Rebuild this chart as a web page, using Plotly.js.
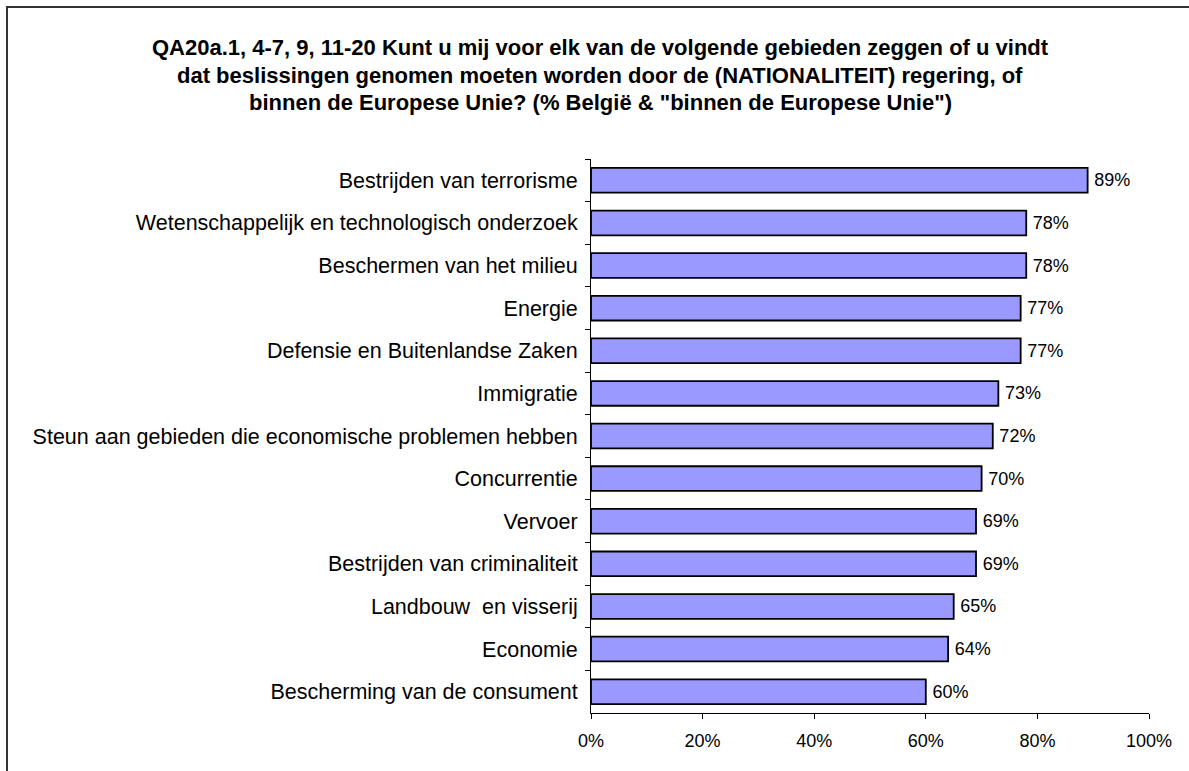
<!DOCTYPE html>
<html>
<head>
<meta charset="utf-8">
<script src="https://cdn.plot.ly/plotly-3.0.1.min.js"></script>
<style>
  html, body { margin: 0; padding: 0; background: #fff; }
  #wrap { position: relative; width: 1189px; height: 771px; }
  #chart { position: absolute; left: 0; top: 0; width: 1189px; height: 771px; }
  #frame { position: absolute; left: 6px; top: 6px; right: -10px; bottom: -10px;
           border-left: 2px solid #333; border-top: 2px solid #333; pointer-events: none; }
</style>
</head>
<body>
<div id="wrap">
  <div id="chart"></div>
  <div id="frame"></div>
</div>
<script>
const categories = [
  "Bestrijden van terrorisme",
  "Wetenschappelijk en technologisch onderzoek",
  "Beschermen van het milieu",
  "Energie",
  "Defensie en Buitenlandse Zaken",
  "Immigratie",
  "Steun aan gebieden die economische problemen hebben",
  "Concurrentie",
  "Vervoer",
  "Bestrijden van criminaliteit",
  "Landbouw  en visserij",
  "Economie",
  "Bescherming van de consument"
];
const values = [0.89, 0.78, 0.78, 0.77, 0.77, 0.73, 0.72, 0.70, 0.69, 0.69, 0.65, 0.64, 0.60];
const xTickValues = [0, 0.2, 0.4, 0.6, 0.8, 1.0];
const xTickLabels = ["0%", "20%", "40%", "60%", "80%", "100%"];
const titleLines = [
  "QA20a.1, 4-7, 9, 11-20 Kunt u mij voor elk van de volgende gebieden zeggen of u vindt",
  "dat beslissingen genomen moeten worden door de (NATIONALITEIT) regering, of",
  "binnen de Europese Unie? (% België & \"binnen de Europese Unie\")"
];

const FONT = "Liberation Sans, Arial, sans-serif";

const trace = {
  type: "bar",
  orientation: "h",
  y: categories,
  x: values,
  marker: { color: "#9999FF", line: { color: "#000000", width: 1.8 } },
  text: values.map(v => "\u2009" + Math.round(v * 100) + "%"),
  textposition: "outside",
  constraintext: "none",
  cliponaxis: false,
  textfont: { family: FONT, size: 18, color: "#000" },
  hoverinfo: "skip"
};

const titleY = [47, 75, 103];
const plotTop = 159, plotH = 554;
const annotations = titleLines.map((t, i) => ({
  text: "<b>" + t + "</b>",
  xref: "paper", yref: "paper",
  x: (600 - 591) / 558,
  y: 1 + (plotTop - titleY[i]) / plotH,
  xanchor: "center", yanchor: "middle",
  showarrow: false,
  font: { family: FONT, size: 22, color: "#000" }
}));

const layout = {
  width: 1189, height: 771,
  margin: { l: 591, r: 40, t: plotTop, b: 771 - plotTop - plotH, pad: 0 },
  paper_bgcolor: "#fff", plot_bgcolor: "#fff",
  showlegend: false,
  bargap: 0.42,
  annotations: annotations,
  xaxis: {
    range: [0, 1],
    tickvals: xTickValues,
    ticktext: xTickLabels,
    showgrid: false, zeroline: false,
    showline: true, linecolor: "#000", linewidth: 1,
    ticks: "outside", ticklen: 5, tickcolor: "#000",
    ticklabelstandoff: 6,
    tickfont: { family: FONT, size: 18, color: "#000" },
    fixedrange: true
  },
  yaxis: {
    type: "category",
    autorange: "reversed",
    showgrid: false, zeroline: false,
    showline: true, linecolor: "#000", linewidth: 1,
    ticks: "outside", ticklen: 5, tickcolor: "#000",
    tickson: "boundaries",
    ticklabelstandoff: 8,
    tickfont: { family: FONT, size: 21.5, color: "#000" },
    fixedrange: true
  }
};

Plotly.newPlot("chart", [trace], layout, { displayModeBar: false, staticPlot: true });
</script>
</body>
</html>
